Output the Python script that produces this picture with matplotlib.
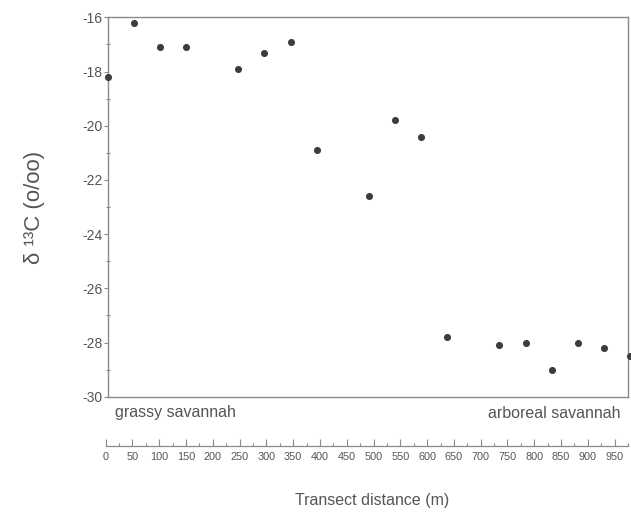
import matplotlib.pyplot as plt
from matplotlib.ticker import MultipleLocator

plt.rcParams['font.family'] = ['Liberation Sans', 'DejaVu Sans']
plt.rcParams['axes.unicode_minus'] = False

# transect distance (m) and delta 13C (o/oo)
distance = [0, 50, 100, 150, 250, 300, 350, 400, 500, 550, 600,
            650, 750, 800, 850, 900, 950, 1000]
d13c = [-18.2, -16.2, -17.1, -17.1, -17.9, -17.3, -16.9, -20.9, -22.6, -19.8, -20.4,
        -27.8, -28.1, -28.0, -29.0, -28.0, -28.2, -28.5]

y_ticks = list(range(-30, -15, 2))
scale_ticks = list(range(0, 951, 50))

grey = '#555555'
spine_col = '#8a8a8a'

fig = plt.figure(figsize=(6.31, 5.12), dpi=100)
fig.patch.set_facecolor('white')

# main scatter panel
ax = fig.add_axes([107.7 / 631, 1 - 396.7 / 512, (628 - 107.7) / 631, (396.7 - 17.3) / 512])
ax.scatter(distance, d13c, s=26, color='#3d3d3d', zorder=3, clip_on=False, linewidths=0)
ax.set_xlim(0, 996)
ax.set_ylim(-30, -16)
ax.set_xticks([])
ax.set_yticks(y_ticks)
ax.set_yticklabels([str(v) for v in y_ticks])
ax.yaxis.set_minor_locator(MultipleLocator(1))
ax.tick_params(axis='y', which='major', direction='out', length=3, width=0.8,
               color=spine_col, labelcolor=grey, labelsize=10, pad=0.5)
ax.tick_params(axis='y', which='minor', direction='inout', length=2.5, width=0.8, color=spine_col)
for s in ax.spines.values():
    s.set_color(spine_col)
    s.set_linewidth(1.0)

ax.text(-140, -23, 'δ ¹³C (o/oo)', rotation=90, ha='center', va='center',
        fontsize=16, color=grey)

# zone labels
fig.text(115 / 631, 1 - 413 / 512, 'grassy savannah', ha='left', va='center',
         fontsize=11.5, color=grey)
fig.text(620 / 631, 1 - 413 / 512, 'arboreal savannah', ha='right', va='center',
         fontsize=11.5, color=grey)

# separate distance scale bar
sc = fig.add_axes([105.7 / 631, 1 - 446 / 512, (628 - 105.7) / 631, 0.01])
sc.set_xlim(0, 975)
sc.set_yticks([])
for k in ['left', 'right', 'top']:
    sc.spines[k].set_visible(False)
sc.spines['bottom'].set_color(spine_col)
sc.spines['bottom'].set_linewidth(0.9)
sc.patch.set_alpha(0)
sc.set_xticks(scale_ticks)
sc.set_xticklabels([str(v) for v in scale_ticks])
sc.xaxis.set_minor_locator(MultipleLocator(25))
sc.tick_params(axis='x', which='major', direction='in', length=5, width=0.8,
               color=spine_col, labelcolor=grey, labelsize=7.8, pad=4)
sc.tick_params(axis='x', which='minor', direction='in', length=2.5, width=0.8, color=spine_col)

fig.text(372 / 631, 1 - 500 / 512, 'Transect distance (m)', ha='center', va='center',
         fontsize=11.5, color=grey)

fig.savefig('out.png', dpi=100, facecolor='white')
